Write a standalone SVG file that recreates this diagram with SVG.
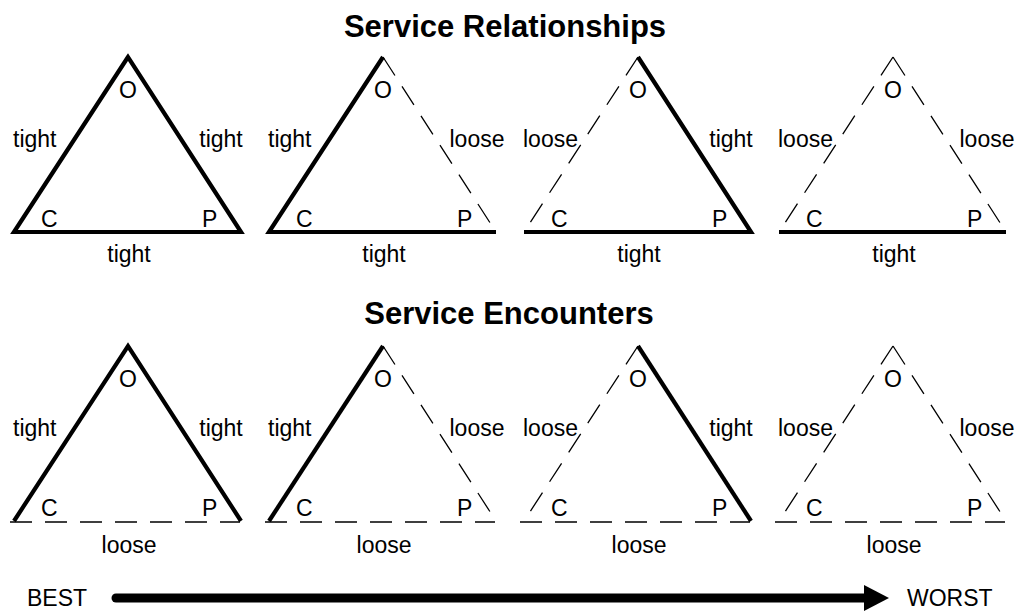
<svg xmlns="http://www.w3.org/2000/svg" width="1021" height="612" viewBox="0 0 1021 612">
  <style>
    .title { font-family: "Liberation Sans", Arial, sans-serif; font-weight: bold; font-size: 31px; fill: #000; text-anchor: middle; }
    .lbl { font-family: "Liberation Sans", Arial, sans-serif; font-size: 23px; fill: #000; }
    .mid { text-anchor: middle; }
    .tight { fill: none; stroke: #000; stroke-width: 4.2; stroke-linejoin: miter; stroke-linecap: butt; }
    .loose { fill: none; stroke: #000; stroke-width: 1.3; stroke-dasharray: 22 13; }
  </style>
  <defs>
    <!-- vertex letters shared by every triangle; apex at (0,0) -->
    <g id="corners">
      <text class="lbl mid" x="0" y="41">O</text>
      <text class="lbl" x="-87" y="170">C</text>
      <text class="lbl" x="74" y="170">P</text>
    </g>
  </defs>

  <rect width="1021" height="612" fill="#fff"/>

  <text class="title" x="505" y="37">Service Relationships</text>
  <text class="title" x="509" y="324">Service Encounters</text>

  <!-- Row 1: service relationships (bottom edge tight) -->
  <g id="rel-1" transform="translate(128,57)">
    <polygon class="tight" points="0,0 -114,175 113,175"/>
    <use href="#corners"/>
    <text class="lbl" x="-115" y="90">tight</text>
    <text class="lbl mid" x="93" y="90">tight</text>
    <text class="lbl mid" x="1" y="205">tight</text>
  </g>
  <g id="rel-2" transform="translate(383,57)">
    <polyline class="tight" points="0,0 -114,175 113,175"/>
    <line class="loose" x1="0" y1="0" x2="113" y2="175"/>
    <use href="#corners"/>
    <text class="lbl" x="-115" y="90">tight</text>
    <text class="lbl mid" x="94" y="90">loose</text>
    <text class="lbl mid" x="1" y="205">tight</text>
  </g>
  <g id="rel-3" transform="translate(638,57)">
    <polyline class="tight" points="-114,175 113,175 0,0"/>
    <line class="loose" x1="0" y1="0" x2="-114" y2="175"/>
    <use href="#corners"/>
    <text class="lbl" x="-115" y="90">loose</text>
    <text class="lbl mid" x="93" y="90">tight</text>
    <text class="lbl mid" x="1" y="205">tight</text>
  </g>
  <g id="rel-4" transform="translate(893,57)">
    <line class="tight" x1="-114" y1="175" x2="113" y2="175"/>
    <line class="loose" x1="0" y1="0" x2="-114" y2="175"/>
    <line class="loose" x1="0" y1="0" x2="113" y2="175"/>
    <use href="#corners"/>
    <text class="lbl" x="-115" y="90">loose</text>
    <text class="lbl mid" x="94" y="90">loose</text>
    <text class="lbl mid" x="1" y="205">tight</text>
  </g>

  <!-- Row 2: service encounters (bottom edge loose) -->
  <g id="enc-1" transform="translate(128,346)">
    <polyline class="tight" points="-114,175 0,0 113,175"/>
    <line class="loose" x1="-118" y1="176" x2="112" y2="176"/>
    <use href="#corners"/>
    <text class="lbl" x="-115" y="90">tight</text>
    <text class="lbl mid" x="93" y="90">tight</text>
    <text class="lbl mid" x="1" y="207">loose</text>
  </g>
  <g id="enc-2" transform="translate(383,346)">
    <line class="tight" x1="-114" y1="175" x2="0" y2="0"/>
    <line class="loose" x1="0" y1="0" x2="113" y2="175"/>
    <line class="loose" x1="-118" y1="176" x2="112" y2="176"/>
    <use href="#corners"/>
    <text class="lbl" x="-115" y="90">tight</text>
    <text class="lbl mid" x="94" y="90">loose</text>
    <text class="lbl mid" x="1" y="207">loose</text>
  </g>
  <g id="enc-3" transform="translate(638,346)">
    <line class="tight" x1="0" y1="0" x2="113" y2="175"/>
    <line class="loose" x1="0" y1="0" x2="-114" y2="175"/>
    <line class="loose" x1="-118" y1="176" x2="112" y2="176"/>
    <use href="#corners"/>
    <text class="lbl" x="-115" y="90">loose</text>
    <text class="lbl mid" x="93" y="90">tight</text>
    <text class="lbl mid" x="1" y="207">loose</text>
  </g>
  <g id="enc-4" transform="translate(893,346)">
    <line class="loose" x1="0" y1="0" x2="-114" y2="175"/>
    <line class="loose" x1="0" y1="0" x2="113" y2="175"/>
    <line class="loose" x1="-118" y1="176" x2="112" y2="176"/>
    <use href="#corners"/>
    <text class="lbl" x="-115" y="90">loose</text>
    <text class="lbl mid" x="94" y="90">loose</text>
    <text class="lbl mid" x="1" y="207">loose</text>
  </g>

  <!-- Best-to-worst scale -->
  <g id="scale-best"><text class="lbl" x="27" y="606">BEST</text></g>
  <g id="scale-worst"><text class="lbl" x="907" y="606">WORST</text></g>
  <g id="connectors">
    <line x1="116" y1="598" x2="868" y2="598" stroke="#000" stroke-width="9" stroke-linecap="round"/>
    <polygon points="864,585 889,598 864,611" fill="#000"/>
  </g>
</svg>
